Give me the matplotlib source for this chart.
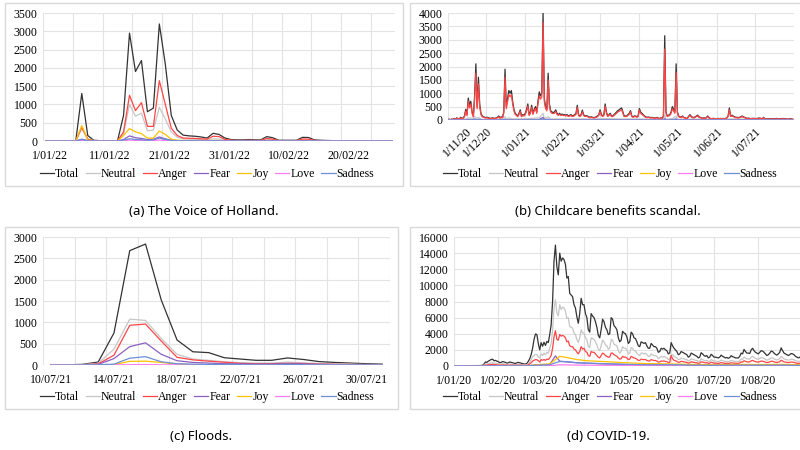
import numpy as np
import pandas as pd
import matplotlib
matplotlib.use("Agg")
import matplotlib.pyplot as plt
from matplotlib.patches import Rectangle
from matplotlib.transforms import ScaledTranslation

emotions = ["Total", "Neutral", "Anger", "Fear", "Joy", "Love", "Sadness"]
colors = ["#333333", "#c6c6c6", "#ff4545", "#8a60c2", "#ffc000", "#ff7cf5", "#6d8fd6"]

# (a) The Voice of Holland, daily 1/01/22 - 28/02/22
a_total = [5, 5, 5, 5, 5, 10, 1300, 150, 20, 10, 10, 5, 10, 700, 2950, 1900, 2200, 800, 900, 3200,
           2100, 700, 300, 160, 140, 130, 110, 80, 210, 180, 80, 40, 30, 30, 40, 30, 30, 120, 90, 20,
           20, 20, 20, 100, 95, 30, 20, 15, 10, 10, 10, 10, 5, 5, 5, 5, 5, 5, 5]
a_neutral = [3, 3, 3, 3, 3, 5, 330, 60, 10, 5, 5, 2, 5, 200, 1000, 680, 760, 280, 300, 920,
             600, 250, 100, 60, 50, 45, 40, 25, 60, 50, 25, 15, 10, 10, 15, 10, 10, 40, 30, 8,
             8, 8, 8, 35, 30, 10, 8, 5, 5, 5, 5, 5, 3, 3, 3, 3, 3, 3, 3]
a_anger = [0, 0, 0, 0, 0, 2, 380, 50, 5, 2, 2, 2, 3, 250, 1250, 830, 1050, 400, 400, 1650,
           1000, 350, 150, 80, 75, 70, 60, 50, 130, 120, 45, 20, 15, 15, 20, 15, 15, 70, 50, 10,
           10, 10, 10, 55, 50, 15, 10, 8, 5, 5, 5, 5, 3, 3, 3, 3, 3, 3, 3]
a_fear = [0, 0, 0, 0, 0, 0, 50, 10, 1, 0, 0, 0, 0, 40, 140, 90, 70, 40, 50, 110,
          60, 20, 10, 8, 6, 5, 5, 4, 8, 6, 3, 2, 2, 2, 2, 2, 2, 4, 3, 1,
          1, 1, 1, 3, 3, 1, 1, 1, 1, 1, 1, 1, 1, 1, 1, 1, 1, 1, 1]
a_joy = [0, 0, 0, 0, 0, 1, 420, 30, 2, 1, 1, 1, 1, 150, 340, 250, 200, 80, 80, 270,
         180, 50, 20, 15, 12, 10, 10, 8, 15, 12, 5, 3, 3, 3, 3, 3, 3, 8, 6, 2,
         2, 2, 2, 5, 5, 2, 2, 1, 1, 1, 1, 1, 1, 1, 1, 1, 1, 1, 1]
a_love = [0, 0, 0, 0, 0, 0, 15, 3, 0, 0, 0, 0, 0, 5, 25, 15, 15, 8, 10, 25,
          15, 5, 2, 2, 1, 1, 1, 1, 2, 2, 1, 0, 0, 0, 0, 0, 0, 1, 1, 0,
          0, 0, 0, 1, 1, 0, 0, 0, 0, 0, 0, 0, 0, 0, 0, 0, 0, 0, 0]
a_sadness = [0, 0, 0, 0, 0, 0, 40, 8, 1, 0, 0, 0, 0, 25, 60, 40, 35, 20, 30, 80,
             40, 15, 8, 6, 5, 5, 4, 3, 6, 5, 2, 2, 2, 2, 2, 2, 2, 3, 3, 1,
             1, 1, 1, 3, 3, 1, 1, 1, 1, 1, 1, 1, 1, 1, 1, 1, 1, 1, 1]

# (b) Childcare benefits scandal, daily 1/11/20 - 31/07/21
b_total = [20, 30, 10, 40, 20, 60, 30, 80, 40, 50,
           100, 60, 80, 150, 400, 200, 820, 550, 700, 300,
           150, 900, 2100, 500, 1600, 600, 250, 150, 120, 100,
           90, 100, 80, 70, 60, 80, 70, 60, 80, 100,
           150, 80, 120, 100, 300, 1900, 500, 800, 1100, 1000,
           1100, 700, 400, 250, 200, 150, 250, 380, 150, 200, 180,
           250, 400, 600, 200, 300, 550, 250, 400, 500, 300,
           700, 1050, 900, 1000, 4000, 800, 500, 400, 1750, 600,
           350, 300, 280, 300, 380, 250, 200, 250, 200, 220, 200,
           200, 180, 200, 150, 180, 200, 150, 170, 200, 250,
           550, 200, 150, 200, 370, 200, 150, 160, 150, 120,
           100, 120, 100, 90, 100, 120, 150, 200,
           380, 200, 150, 200, 600, 300, 150, 200, 250, 150,
           150, 200, 250, 300, 350, 380, 420, 450, 300, 150,
           150, 150, 200, 250, 350, 150, 120, 150, 150, 120, 150,
           430, 300, 250, 200, 150, 120, 100, 110, 100, 90,
           100, 80, 70, 80, 100, 70, 60, 80, 70, 150,
           3150, 300, 150, 180, 200, 300, 500, 400, 300, 2100,
           300, 150, 120, 100, 150, 100, 80, 60, 80, 150,
           200, 130, 100, 90, 120, 150, 180, 120, 100, 80,
           70, 80, 60, 100, 150, 80, 60, 50, 60, 60, 50,
           50, 60, 50, 60, 50, 60, 50, 60, 80, 150,
           450, 150, 180, 150, 120, 100, 100, 90, 100, 120,
           150, 120, 100, 80, 60, 70, 60, 50, 60, 60,
           60, 50, 60, 70, 70, 60, 50, 100, 40, 50,
           40, 50, 40, 50, 40, 50, 40, 60, 50, 40,
           50, 40, 60, 40, 50, 40, 30, 40, 50, 40, 30]
b_anger = [15, 25, 8, 30, 15, 50, 25, 65, 30, 40,
           80, 50, 65, 120, 330, 160, 700, 450, 600, 250,
           120, 750, 1750, 420, 1350, 500, 200, 120, 100, 80,
           75, 80, 65, 55, 50, 65, 55, 50, 65, 80,
           120, 65, 100, 80, 250, 1600, 420, 680, 950, 870,
           950, 600, 340, 210, 170, 120, 210, 320, 120, 170, 150,
           210, 340, 520, 170, 250, 470, 210, 340, 430, 250,
           600, 900, 780, 870, 3650, 680, 430, 340, 1500, 500,
           300, 250, 240, 250, 320, 210, 170, 210, 170, 190, 170,
           170, 150, 170, 130, 150, 170, 130, 140, 170, 210,
           470, 170, 130, 170, 310, 170, 130, 140, 130, 100,
           85, 100, 85, 75, 85, 100, 130, 170,
           320, 170, 130, 170, 510, 250, 130, 170, 210, 130,
           130, 170, 210, 250, 300, 320, 360, 380, 250, 130,
           130, 130, 170, 210, 300, 130, 100, 130, 130, 100, 130,
           370, 250, 210, 170, 130, 100, 85, 95, 85, 75,
           85, 70, 60, 70, 85, 60, 50, 70, 60, 130,
           2650, 250, 130, 150, 170, 250, 420, 340, 250, 1780,
           250, 130, 100, 85, 130, 85, 70, 50, 70, 130,
           170, 110, 85, 75, 100, 130, 150, 100, 85, 70,
           60, 70, 50, 85, 130, 70, 50, 40, 50, 50, 40,
           40, 50, 40, 50, 40, 50, 40, 50, 70, 130,
           380, 130, 150, 130, 100, 85, 85, 75, 85, 100,
           130, 100, 85, 70, 50, 60, 50, 40, 50, 50,
           50, 40, 50, 60, 60, 50, 40, 85, 35, 40,
           35, 40, 35, 40, 35, 40, 35, 50, 40, 35,
           40, 35, 50, 35, 40, 35, 25, 35, 40, 35, 25]
b_minor_dates = ["2020-11-01", "2020-11-15", "2020-11-17", "2020-11-20", "2020-11-22", "2020-11-23",
                 "2020-11-25", "2020-11-28", "2020-12-10", "2020-12-16", "2020-12-17", "2020-12-19",
                 "2020-12-22", "2021-01-03", "2021-01-12", "2021-01-15", "2021-01-16", "2021-01-19",
                 "2021-01-21", "2021-02-11", "2021-03-05", "2021-03-18", "2021-04-01", "2021-04-20",
                 "2021-04-21", "2021-04-22", "2021-04-27", "2021-04-30", "2021-05-01", "2021-06-12",
                 "2021-07-31"]
b_neutral = [5, 40, 80, 60, 150, 50, 100, 20, 15, 120, 40, 80, 40, 50, 80, 250, 60, 120, 40, 40,
             50, 40, 40, 20, 200, 30, 60, 150, 30, 40, 5]
b_fear = [2, 10, 20, 15, 40, 10, 30, 8, 5, 30, 10, 20, 10, 15, 20, 100, 20, 30, 10, 10,
          15, 10, 10, 5, 50, 8, 15, 40, 8, 10, 2]
b_joy = [1, 3, 5, 4, 10, 3, 8, 2, 2, 10, 3, 6, 3, 4, 5, 20, 5, 8, 3, 3,
         4, 3, 3, 2, 10, 2, 4, 10, 2, 3, 1]
b_love = [0, 1, 2, 1, 3, 1, 2, 1, 1, 3, 1, 2, 1, 1, 2, 5, 1, 2, 1, 1,
          1, 1, 1, 0, 3, 1, 1, 3, 1, 1, 0]
b_sadness = [1, 5, 10, 8, 20, 5, 15, 4, 3, 15, 5, 10, 5, 8, 10, 40, 10, 15, 5, 5,
             8, 5, 5, 3, 25, 4, 8, 20, 4, 5, 1]

# (c) Floods, daily 10/07/21 - 31/07/21
c_total = [0, 5, 15, 70, 750, 2680, 2835, 1520, 585, 310, 290, 170, 140, 110, 110, 165, 130, 80, 60, 45, 30, 20]
c_neutral = [0, 2, 8, 40, 370, 1075, 1045, 620, 250, 140, 110, 75, 55, 45, 45, 70, 50, 35, 25, 20, 12, 8]
c_anger = [0, 1, 4, 25, 230, 930, 960, 560, 180, 120, 90, 65, 40, 30, 30, 40, 35, 20, 15, 12, 8, 5]
c_fear = [0, 1, 2, 15, 150, 430, 520, 250, 100, 60, 45, 30, 25, 20, 20, 30, 25, 15, 10, 8, 5, 3]
c_joy = [0, 0, 1, 3, 10, 85, 90, 60, 20, 10, 8, 6, 5, 4, 4, 6, 5, 3, 2, 2, 1, 1]
c_love = [0, 0, 0, 1, 3, 8, 10, 6, 3, 2, 2, 1, 1, 1, 1, 2, 1, 1, 1, 0, 0, 0]
c_sadness = [0, 0, 1, 3, 20, 160, 195, 75, 30, 20, 15, 10, 8, 6, 6, 10, 8, 5, 4, 3, 2, 1]

# (d) COVID-19, daily 1/01/20 - 31/08/20
d_total = [40, 40, 30, 30, 40, 40, 30, 40, 40, 50, 40, 40, 50, 40, 50, 40, 50, 60, 50, 60,
           100, 250, 500, 450, 600, 700, 800, 850, 650, 700, 600,
           550, 400, 450, 550, 500, 450, 350, 400, 500, 450, 400, 350, 300, 400, 450, 400, 350,
           300, 250, 250, 300, 580, 900, 1400, 2200, 3260, 3970, 3900, 2800,
           2000, 2900, 2450, 2950, 2550, 3050, 2900, 3900, 5100, 8000, 13000, 15000, 12300, 11300,
           14000, 13000, 13400, 13200, 12600, 10900, 11100, 9000, 8800, 8600, 7600, 7200, 6100,
           5300, 6500, 8400, 7600,
           7600, 6500, 6000, 4500, 4200, 6500, 6200, 6000, 5500, 4800, 3800, 3500, 4500, 5800,
           5500, 4800, 4500, 3900, 4000, 6000, 5800, 5000, 4800, 4500, 3500, 3000, 3200, 4300,
           4100, 4000,
           3600, 2800, 3000, 4200, 4000, 3500, 3400, 3000, 2500, 2400, 3000, 2900, 2800, 2900,
           2500, 2200, 2200, 2800, 2600, 2400, 2400, 2200, 1700, 1800, 2200, 2100, 2200, 2000,
           1900, 1500, 1600,
           2900, 2500, 2200, 2000, 1800, 1400, 1500, 1800, 1700, 1600, 1500, 1400, 1100, 1200,
           1600, 1500, 1400, 1300, 1200, 1000, 1100, 1650, 1500, 1300, 1200, 1300, 1000, 1100,
           1450, 1300,
           1100, 1100, 1050, 1000, 1100, 1350, 1200, 1100, 1000, 1050, 950, 1050, 1280, 1150,
           1100, 1000, 1000, 1000, 1200, 1600, 1500, 2050, 1800, 1600, 1600, 1550, 2000, 2200,
           1900, 1700, 1600,
           1500, 1700, 1900, 1850, 1700, 1500, 1300, 1400, 1600, 1850, 1800, 1600, 1450, 1350,
           1500, 1700, 2250, 1900, 1600, 1500, 1400, 1300, 1400, 1550, 1500, 1400, 1200, 1100,
           1000, 1100, 950]
d_neutral = [20, 20, 15, 15, 20, 20, 15, 20, 20, 25, 20, 20, 25, 20, 25, 20, 25, 30, 25, 30,
             50, 130, 250, 230, 300, 350, 400, 430, 330, 350, 300,
             280, 200, 230, 280, 250, 230, 180, 200, 250, 230, 200, 180, 150, 200, 230, 200, 180,
             150, 130, 130, 150, 300, 480, 750, 1150, 1300, 1450, 1400, 1100,
             1000, 1500, 1300, 1600, 1400, 1700, 1600, 2200, 2800, 4400, 7200, 8200, 6600, 6200,
             7600, 7000, 7300, 7200, 6800, 5900, 6000, 4900, 4800, 4700, 4100, 3900, 3300, 2900,
             3500, 4500, 4100,
             4100, 3500, 3300, 2400, 2300, 3500, 3400, 3300, 3000, 2600, 2100, 1900, 2500, 3200,
             3000, 2600, 2500, 2100, 2200, 3300, 3200, 2700, 2600, 2500, 1900, 1600, 1800, 2400,
             2200, 2200,
             2000, 1500, 1600, 2300, 2200, 1900, 1900, 1600, 1400, 1300, 1600, 1600, 1500, 1600,
             1400, 1200, 1200, 1500, 1400, 1300, 1300, 1200, 900, 1000, 1200, 1100, 1200, 1100,
             1000, 800, 900,
             1400, 1400, 1200, 1100, 1000, 800, 800, 1000, 900, 900, 800, 800, 600, 700,
             900, 800, 800, 700, 700, 550, 600, 900, 800, 700, 650, 700, 550, 600, 800, 700,
             600, 600, 580, 550, 600, 750, 650, 600, 550, 580, 520, 580, 700, 630,
             600, 550, 550, 550, 660, 880, 820, 1100, 1000, 880, 880, 850, 1100, 1200,
             1050, 930, 880,
             820, 930, 1050, 1000, 930, 820, 720, 770, 880, 1000, 1000, 880, 800, 740,
             820, 930, 1200, 1050, 880, 820, 770, 720, 770, 850, 820, 770, 660, 600,
             550, 600, 520]
d_anger = [10, 10, 8, 8, 10, 10, 8, 10, 10, 12, 10, 10, 12, 10, 12, 10, 12, 15, 12, 15,
           25, 60, 120, 110, 150, 170, 200, 210, 160, 170, 150,
           140, 100, 110, 140, 120, 110, 90, 100, 120, 110, 100, 90, 80, 100, 110, 100, 90,
           80, 60, 60, 80, 150, 250, 400, 600, 700, 800, 780, 650,
           500, 800, 700, 800, 700, 850, 800, 1000, 1300, 2200, 3600, 4380, 3300, 3200,
           3900, 3700, 3800, 3700, 3500, 3000, 3100, 2500, 2400, 2400, 2100, 2000, 1700, 1500,
           1800, 2400, 2100,
           2200, 1800, 1700, 1300, 1200, 1800, 1700, 1700, 1500, 1300, 1100, 1000, 1300, 1600,
           1500, 1300, 1200, 1100, 1100, 1600, 1600, 1400, 1300, 1200, 1000, 850, 900, 1200,
           1100, 1100,
           1000, 800, 850, 1200, 1100, 1000, 950, 850, 700, 700, 850, 800, 800, 800,
           700, 620, 620, 800, 730, 680, 680, 620, 480, 500, 620, 600, 620, 560,
           540, 430, 450,
           1300, 900, 700, 650, 580, 450, 480, 580, 550, 520, 480, 450, 350, 390,
           520, 480, 450, 420, 390, 320, 350, 530, 480, 420, 390, 420, 320, 350, 470, 420,
           350, 350, 340, 320, 350, 430, 380, 350, 320, 340, 300, 340, 410, 370,
           350, 320, 320, 320, 380, 510, 480, 650, 580, 510, 510, 500, 640, 700,
           610, 540, 510,
           480, 540, 610, 590, 540, 480, 420, 450, 510, 590, 580, 510, 460, 430,
           480, 540, 720, 610, 510, 480, 450, 420, 450, 500, 480, 450, 380, 350,
           320, 350, 300]
d_minor_dates = ["2020-01-01", "2020-01-21", "2020-01-28", "2020-02-15", "2020-02-22", "2020-02-27",
                 "2020-03-08", "2020-03-12", "2020-03-15", "2020-03-20", "2020-03-27", "2020-04-03",
                 "2020-04-15", "2020-05-01", "2020-05-15", "2020-06-01", "2020-06-15", "2020-07-01",
                 "2020-07-20", "2020-08-01", "2020-08-17", "2020-08-31"]
d_joy = [5, 10, 40, 30, 20, 150, 250, 800, 1200, 1050, 800, 650, 550, 400, 300, 250, 200, 150, 200, 180, 200, 150]
d_fear = [2, 5, 30, 20, 15, 150, 200, 1250, 600, 500, 400, 350, 250, 180, 130, 150, 100, 80, 100, 90, 100, 70]
d_sadness = [2, 5, 20, 15, 10, 100, 150, 400, 550, 550, 400, 350, 300, 200, 150, 150, 110, 90, 110, 100, 110, 80]
d_love = [1, 2, 10, 10, 5, 30, 40, 100, 150, 140, 110, 100, 90, 70, 60, 50, 40, 35, 45, 40, 45, 35]

serif = "Liberation Serif"
W, H = 800, 450

fig = plt.figure(figsize=(8, 4.5), dpi=100)


def px_rect(l, t, r, b):
    return [l / W, 1 - b / H, (r - l) / W, (b - t) / H]


def fmt(d):
    return f"{d.day}/{d.month:02d}/{d.year % 100}"


def frame(l, t, r, b, caption, cap_y):
    fig.add_artist(Rectangle((l / W, 1 - b / H), (r - l) / W, (b - t) / H, transform=fig.transFigure,
                             fill=False, edgecolor="#d9d9d9", lw=1))
    fig.text((l + r) / 2 / W, 1 - cap_y / H, caption, ha="center", va="center",
             family="Noto Sans", fontsize=9.5)


def shift(labels, dx):
    for lab in labels:
        lab.set_transform(lab.get_transform() + ScaledTranslation(dx / 100, 0, fig.dpi_scale_trans))


def style(ax, ymax, ystep, legend_y, legend_x, xpad):
    ax.set_ylim(0, ymax)
    ax.set_yticks(np.arange(0, ymax + 1, ystep))
    for s in ax.spines.values():
        s.set_visible(False)
    ax.tick_params(length=0, labelsize=8.5, pad=4)
    ax.tick_params(axis="x", pad=xpad)
    for lab in ax.get_xticklabels() + ax.get_yticklabels():
        lab.set_family(serif)
    ax.grid(axis="y", color="#e3e3e3", lw=0.8)
    ax.set_axisbelow(True)
    ax.legend(loc="center", bbox_to_anchor=(legend_x / W, 1 - legend_y / H), bbox_transform=fig.transFigure,
              ncol=7, frameon=False, handlelength=1.2, handletextpad=0.1, columnspacing=0.55,
              prop={"family": serif, "size": 8.5})


def category_panel(rect, start, series, every_label, every_grid, ymax, ystep, legend_y, legend_x, dx):
    ax = fig.add_axes(px_rect(*rect))
    n = len(series[0])
    dates = pd.date_range(start, periods=n)
    for vals, name, c in zip(series, emotions, colors):
        ax.plot(np.arange(len(vals)), vals, color=c, lw=0.9, label=name)
    ax.set_xlim(-0.5, n - 0.5)
    ticks = np.arange(0, n, every_label)
    ax.set_xticks(ticks)
    ax.set_xticklabels([fmt(dates[i]) for i in ticks])
    ax.set_xticks(np.arange(-0.5, n, every_grid), minor=True)
    ax.tick_params(which="minor", length=0)
    ax.grid(axis="x", which="minor", color="#e3e3e3", lw=0.8)
    style(ax, ymax, ystep, legend_y, legend_x, 6.5)
    shift(ax.get_xticklabels(), dx)
    return ax


def date_panel(rect, start, end, daily, minor_dates, minor, ymax, ystep, legend_y, legend_x, rotate):
    ax = fig.add_axes(px_rect(*rect))
    t0 = pd.Timestamp(start)
    minor_x = (pd.to_datetime(minor_dates) - t0).days
    for name, c in zip(emotions, colors):
        if name in daily:
            ax.plot(np.arange(len(daily[name])), daily[name], color=c, lw=0.9, label=name)
        else:
            ax.plot(minor_x, minor[name], color=c, lw=0.9, label=name)
    months = pd.date_range(start, end, freq="MS")
    mx = (months - t0).days
    ax.set_xlim(0, mx[-1])
    ax.set_xticks(mx[:-1])
    ax.set_xticklabels([fmt(m) for m in months[:-1]])
    ax.grid(axis="x", color="#e3e3e3", lw=0.8)
    style(ax, ymax, ystep, legend_y, legend_x, 4 if rotate else 6.5)
    if rotate:
        for lab in ax.get_xticklabels():
            lab.set_rotation(45)
            lab.set_ha("right")
            lab.set_rotation_mode("anchor")
        shift(ax.get_xticklabels()[:1], 18)
    return ax


frame(5, 3, 403, 186, "(a) The Voice of Holland.", 212)
frame(410, 3, 806, 186, "(b) Childcare benefits scandal.", 212)
frame(5, 227, 398, 409, "(c) Floods.", 437)
frame(410, 227, 806, 409, "(d) COVID-19.", 437)

category_panel((43, 13, 395, 141), "2022-01-01",
               [a_total, a_neutral, a_anger, a_fear, a_joy, a_love, a_sadness],
               10, 5, 3500, 500, 174, 207, 4)

date_panel((448, 13, 794, 120), "2020-11-01", "2021-08-01",
           {"Total": b_total, "Anger": b_anger}, b_minor_dates,
           {"Neutral": b_neutral, "Fear": b_fear, "Joy": b_joy, "Love": b_love, "Sadness": b_sadness},
           4000, 500, 174, 610, True)

category_panel((43, 237, 390, 365), "2021-07-10",
               [c_total, c_neutral, c_anger, c_fear, c_joy, c_love, c_sadness],
               4, 2, 3000, 500, 397, 207, 0)

date_panel((454, 237, 802.6, 366), "2020-01-01", "2020-09-01",
           {"Total": d_total, "Neutral": d_neutral, "Anger": d_anger}, d_minor_dates,
           {"Fear": d_fear, "Joy": d_joy, "Love": d_love, "Sadness": d_sadness},
           16000, 2000, 397, 610, False)

fig.savefig("out.png", dpi=100)
